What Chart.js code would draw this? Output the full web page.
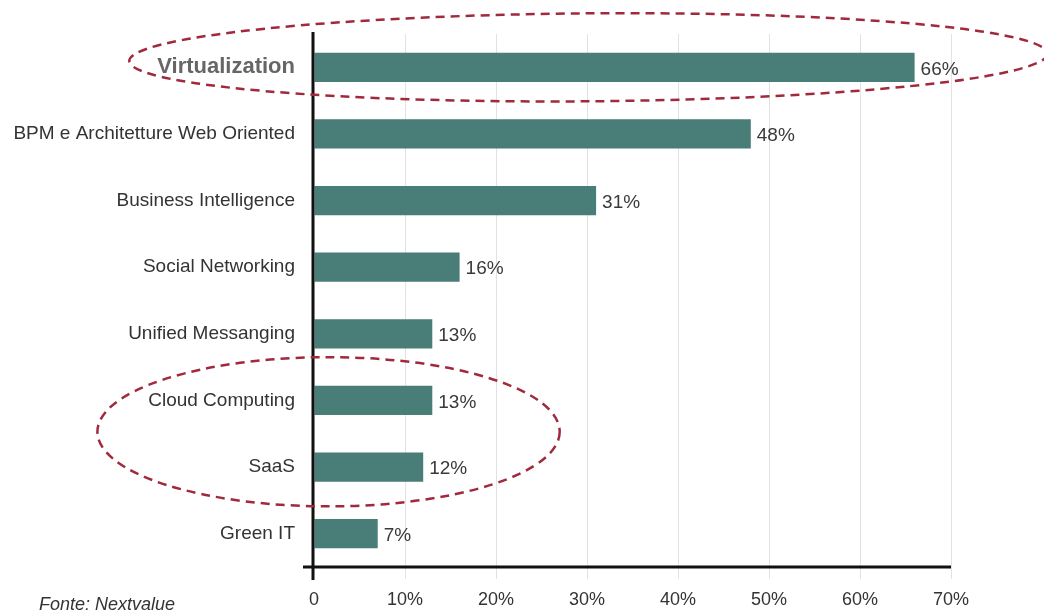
<!DOCTYPE html>
<html>
<head>
<meta charset="utf-8">
<script src="https://cdn.jsdelivr.net/npm/chart.js@4/dist/chart.umd.min.js"></script>
<style>
  html, body { margin: 0; padding: 0; background: #fff; }
  #wrap { width: 1044px; height: 615px; }
</style>
</head>
<body>
<div id="wrap"><canvas id="chart" width="1044" height="615"></canvas></div>
<script>
// dati
const categories = [
  'Virtualization',
  'BPM e Architetture Web Oriented',
  'Business Intelligence',
  'Social Networking',
  'Unified Messanging',
  'Cloud Computing',
  'SaaS',
  'Green IT',
];
const values = [66, 48, 31, 16, 13, 13, 12, 7];
const xTicks = [0, 10, 20, 30, 40, 50, 60, 70];
const sourceNote = 'Fonte: Nextvalue';

const FONT = "'Liberation Sans', Arial, sans-serif";
const barColor = '#487d78';
const ellipseColor = '#a02a3c';

// plugin: assi, etichette valori, ellissi tratteggiate, fonte
const extras = {
  id: 'extras',
  afterDatasetsDraw(chart) {
    const ctx = chart.ctx;
    const x = chart.scales.x;
    const y = chart.scales.y;
    const area = chart.chartArea;
    const x0 = x.getPixelForValue(0);

    ctx.save();
    // assi
    ctx.strokeStyle = '#111';
    ctx.lineWidth = 3;
    ctx.beginPath();
    ctx.moveTo(x0 - 1, area.top - 2);
    ctx.lineTo(x0 - 1, area.bottom + 13);
    ctx.moveTo(x0 - 11, area.bottom);
    ctx.lineTo(area.right, area.bottom);
    ctx.stroke();

    // etichette valori
    ctx.fillStyle = '#3a3a3a';
    ctx.font = '19px ' + FONT;
    ctx.textBaseline = 'middle';
    ctx.textAlign = 'left';
    chart.getDatasetMeta(0).data.forEach((bar, i) => {
      ctx.fillText(values[i] + '%', bar.x + 6, bar.y + 2);
    });

    // ellissi
    const band = y.getPixelForValue(1) - y.getPixelForValue(0);
    ctx.strokeStyle = ellipseColor;
    ctx.lineWidth = 2.5;
    ctx.setLineDash([9, 6]);
    const l1 = x.getPixelForValue(-20.3), r1 = x.getPixelForValue(80.6);
    ctx.beginPath();
    ctx.ellipse((l1 + r1) / 2, y.getPixelForValue(0) - 10, (r1 - l1) / 2, band * 0.66, -0.008, 0, Math.PI * 2);
    ctx.stroke();
    const l2 = x.getPixelForValue(-23.8), r2 = x.getPixelForValue(27);
    ctx.beginPath();
    ctx.ellipse((l2 + r2) / 2, (y.getPixelForValue(5) + y.getPixelForValue(6)) / 2 - 2, (r2 - l2) / 2, band * 1.12, 0, 0, Math.PI * 2);
    ctx.stroke();
    ctx.setLineDash([]);

    // fonte
    ctx.fillStyle = '#333';
    ctx.font = 'italic 18px ' + FONT;
    ctx.textBaseline = 'middle';
    ctx.fillText(sourceNote, 39, 605);
    ctx.restore();
  },
};

const ctx = document.getElementById('chart').getContext('2d');
const chart = new Chart(ctx, {
  type: 'bar',
  data: {
    labels: categories,
    datasets: [
      {
        data: values,
        backgroundColor: barColor,
        borderWidth: 0,
        categoryPercentage: 1,
        barPercentage: 0.44,
      },
    ],
  },
  options: {
    indexAxis: 'y',
    responsive: false,
    animation: false,
    layout: { padding: { top: 34, right: 93, left: 0, bottom: 0 } },
    plugins: {
      legend: { display: false },
      tooltip: { enabled: false },
    },
    scales: {
      x: {
        min: 0,
        max: 70,
        afterFit: s => { s.height = 48; },
        afterBuildTicks: s => { s.ticks = xTicks.map(v => ({ value: v })); },
        grid: {
          color: ctx => (ctx.tick && ctx.tick.value === 0 ? 'rgba(0,0,0,0)' : '#e2e2e2'),
          lineWidth: 1,
          tickLength: 12,
        },
        border: { display: false },
        ticks: {
          padding: 10,
          color: '#333',
          font: { family: FONT, size: 18 },
          callback: v => (v === 0 ? '0' : v + '%'),
        },
      },
      y: {
        afterFit: s => { s.width = 314; },
        grid: { display: false, drawTicks: false },
        border: { display: false },
        ticks: {
          padding: 19,
          color: ctx => (ctx.index === 0 ? '#666' : '#333'),
          font: ctx =>
            ctx.index === 0
              ? { family: FONT, size: 22, weight: 'bold' }
              : { family: FONT, size: 19 },
        },
      },
    },
  },
  plugins: [extras],
});
</script>
</body>
</html>
